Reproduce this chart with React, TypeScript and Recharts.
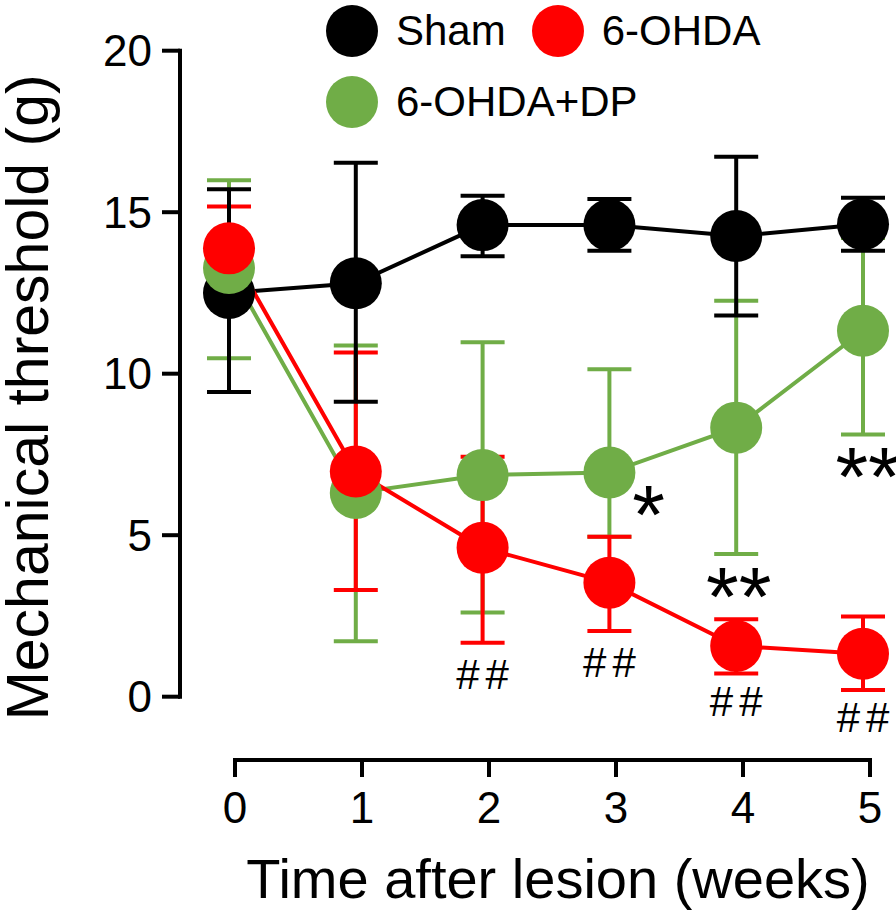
import React from 'react';
import { ComposedChart, Line, XAxis, YAxis, ErrorBar, Scatter, ReferenceLine, Legend } from 'recharts';

// ---------- data ----------
const weeks = [0, 1, 2, 3, 4, 5];
const xTicks = [0, 1, 2, 3, 4, 5];
const yTicks = [0, 5, 10, 15, 20];

const shamMean = [12.5, 12.8, 14.6, 14.6, 14.26, 14.63];
const shamLow = [9.43, 9.13, 13.64, 13.81, 11.8, 13.81];
const shamHigh = [15.71, 16.53, 15.51, 15.41, 16.72, 15.45];

const ohdaMean = [13.88, 6.97, 4.61, 3.53, 1.57, 1.33];
const ohdaLow = [12.55, 3.3, 1.67, 2.03, 0.72, 0.21];
const ohdaHigh = [15.18, 10.66, 7.43, 4.95, 2.4, 2.48];

const dpMean = [13.27, 6.31, 6.86, 6.94, 8.33, 11.33];
const dpLow = [10.48, 1.72, 2.61, 4.95, 4.42, 8.12];
const dpHigh = [15.99, 10.87, 10.97, 10.14, 12.26, 14.2];

const annoX = [2, 3, 4, 5, 3.31, 4.02, 5.04];
const annoY = [0.7, 1.07, -0.13, -0.63, 6.24, 3.71, 7.42];
const annoText = ['##', '##', '##', '##', '*', '**', '**'];

const legendNames = ['Sham', '6-OHDA', '6-OHDA+DP'];

// ---------- styles ----------
const FONT = '"Liberation Sans", Arial, Helvetica, sans-serif';
const BLACK = '#000000';
const RED = '#FF0000';
const GREEN = '#70AD47';
const legendColors = [BLACK, RED, GREEN];

const data = weeks.map((w, i) => ({
  x: w,
  sham: shamMean[i],
  shamErr: [shamMean[i] - shamLow[i], shamHigh[i] - shamMean[i]],
  ohda: ohdaMean[i],
  ohdaErr: [ohdaMean[i] - ohdaLow[i], ohdaHigh[i] - ohdaMean[i]],
  dp: dpMean[i],
  dpErr: [dpMean[i] - dpLow[i], dpHigh[i] - dpMean[i]],
}));

const annotations = annoX.map((x, i) => ({ x, y: annoY[i], text: annoText[i] }));

const Y_MIN = -1.96;
const TICK_DOMAIN: [number, number] = [-55 / 127, 5];
const DATA_DOMAIN: [number, number] = [-49 / 126.8, 5 + 7 / 126.8];

const YTitle = (props: any) => {
  const vb = props.viewBox || { x: 0, y: 0, width: 0, height: 0 };
  const cx = vb.x + 48;
  const cy = vb.y + vb.height / 2 - 8;
  return (
    <text x={cx} y={cy} transform={`rotate(-90 ${cx} ${cy})`} textAnchor="middle" fontSize={59} fontFamily={FONT} fill="#000">
      Mechanical threshold (g)
    </text>
  );
};

const XTitle = (props: any) => {
  const vb = props.viewBox || { x: 0, y: 0, width: 0, height: 0 };
  const x = vb.x + vb.width / 2 + 33;
  const y = vb.y + 138;
  return (
    <text x={x} y={y} textAnchor="middle" fontSize={56} fontFamily={FONT} fill="#000">
      Time after lesion (weeks)
    </text>
  );
};

const AnnoShape = (props: any) => {
  const { cx, cy, payload } = props;
  if (cx == null || cy == null) return null;
  const isHash = payload.text.indexOf('#') >= 0;
  if (isHash) {
    return (
      <text x={cx + 3} y={cy} dy="0.35em" textAnchor="middle" fontSize={42} letterSpacing={6} fontFamily={FONT} fill="#000">
        {payload.text}
      </text>
    );
  }
  return (
    <text x={cx} y={cy} dy="0.58em" textAnchor="middle" fontSize={84} fontFamily={FONT} fill="#000">
      {payload.text}
    </text>
  );
};

const renderLegend = () => (
  <div style={{ display: 'flex', flexWrap: 'wrap', rowGap: 19, width: 540, fontFamily: FONT }}>
    {legendNames.map((n, i) => (
      <div key={n} style={{ display: 'inline-flex', alignItems: 'center', height: 52, marginRight: 26, flex: '0 0 auto' }}>
        <div style={{ width: 52, height: 52, borderRadius: '50%', background: legendColors[i] }} />
        <span style={{ marginLeft: 18, fontSize: 42, lineHeight: 1, color: '#000', whiteSpace: 'nowrap' }}>{n}</span>
      </div>
    ))}
  </div>
);

const barLine = (key: string, errKey: string, color: string) => (
  <Line
    key={`bar-${key}`}
    xAxisId="data"
    type="linear"
    dataKey={key}
    stroke="none"
    dot={false}
    activeDot={false}
    legendType="none"
    isAnimationActive={false}
  >
    <ErrorBar dataKey={errKey} direction="y" width={22} stroke={color} strokeWidth={4} />
  </Line>
);

const curveLine = (key: string, color: string) => (
  <Line
    key={`curve-${key}`}
    xAxisId="data"
    type="linear"
    dataKey={key}
    stroke={color}
    strokeWidth={4}
    dot={false}
    activeDot={false}
    legendType="none"
    isAnimationActive={false}
  />
);

const dotLine = (key: string, color: string) => (
  <Line
    key={`dot-${key}`}
    xAxisId="data"
    type="linear"
    dataKey={key}
    stroke="none"
    dot={{ r: 26, fill: color, stroke: 'none', strokeWidth: 0 }}
    activeDot={false}
    legendType="none"
    isAnimationActive={false}
  />
);

export default function App() {
  return (
    <div style={{ position: 'absolute', left: 0, top: 0, width: 896, height: 916, background: '#fff', fontFamily: FONT }}>
      <ComposedChart width={896} height={916} data={data} margin={{ top: 50.7, right: 26, bottom: 0, left: 0 }}>
        <XAxis
          xAxisId="tick"
          type="number"
          dataKey="x"
          domain={TICK_DOMAIN}
          ticks={xTicks}
          interval={0}
          axisLine={false}
          tickLine={{ stroke: '#000', strokeWidth: 4 }}
          tickSize={17}
          tickMargin={15}
          tick={{ fill: '#000', fontSize: 44, fontFamily: FONT }}
          height={156}
          label={<XTitle />}
        />
        <XAxis xAxisId="data" type="number" dataKey="x" domain={DATA_DOMAIN} height={0} hide />
        <YAxis
          type="number"
          domain={[Y_MIN, 20]}
          ticks={yTicks}
          interval={0}
          axisLine={false}
          tickLine={{ stroke: '#000', strokeWidth: 4 }}
          tickSize={18}
          tickMargin={10}
          width={180}
          tick={{ fill: '#000', fontSize: 44, fontFamily: FONT }}
          label={<YTitle />}
        />
        <Legend
          content={renderLegend}
          verticalAlign="middle"
          align="center"
          wrapperStyle={{ left: 326, top: 5, width: 540 }}
        />
        <Line
          xAxisId="tick"
          type="linear"
          dataKey="sham"
          stroke="none"
          dot={false}
          activeDot={false}
          legendType="none"
          isAnimationActive={false}
        />
        <ReferenceLine
          xAxisId="tick"
          segment={[{ x: TICK_DOMAIN[0], y: 0 }, { x: TICK_DOMAIN[0], y: 20 }]}
          stroke="#000"
          strokeWidth={4}
          strokeLinecap="square"
          ifOverflow="visible"
        />
        <ReferenceLine
          xAxisId="tick"
          segment={[{ x: 0, y: Y_MIN }, { x: 5, y: Y_MIN }]}
          stroke="#000"
          strokeWidth={4}
          strokeLinecap="square"
          ifOverflow="visible"
        />
        {barLine('dp', 'dpErr', GREEN)}
        {barLine('ohda', 'ohdaErr', RED)}
        {barLine('sham', 'shamErr', BLACK)}
        {curveLine('sham', BLACK)}
        {curveLine('dp', GREEN)}
        {curveLine('ohda', RED)}
        {dotLine('sham', BLACK)}
        {dotLine('dp', GREEN)}
        {dotLine('ohda', RED)}
        <Scatter
          xAxisId="data"
          data={annotations}
          dataKey="y"
          shape={<AnnoShape />}
          legendType="none"
          isAnimationActive={false}
        />
      </ComposedChart>
    </div>
  );
}
